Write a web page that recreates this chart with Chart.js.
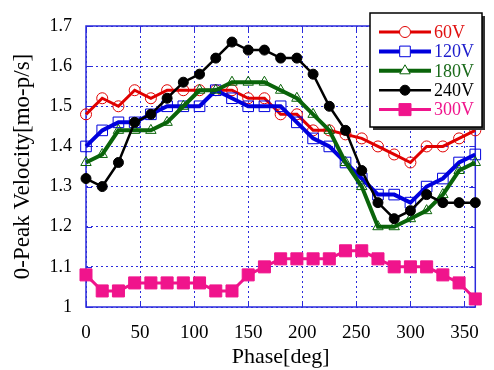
<!DOCTYPE html>
<html>
<head>
<meta charset="utf-8">
<script src="https://cdn.jsdelivr.net/npm/chart.js@4.4.1/dist/chart.umd.min.js"></script>
<style>
  html, body { margin: 0; padding: 0; background: #fff; }
  #wrap { width: 494px; height: 370px; position: relative; }
</style>
</head>
<body>
<div id="wrap"><canvas id="chart"></canvas></div>
<script>
// Valeurs (phase en degrés, vitesse 0-crête)
const phases = [0, 15, 30, 45, 60, 75, 90, 105, 120, 135, 150, 165, 180,
  195, 210, 225, 240, 255, 270, 285, 300, 315, 330, 345, 360]
const v60 = [1.48, 1.52, 1.50, 1.54, 1.52, 1.54, 1.54, 1.54, 1.54, 1.54, 1.52, 1.52, 1.48,
  1.48, 1.44, 1.44, 1.43, 1.42, 1.40, 1.38, 1.36, 1.40, 1.40, 1.42, 1.44]
const v120 = [1.40, 1.44, 1.46, 1.46, 1.48, 1.50, 1.50, 1.50, 1.54, 1.52, 1.50, 1.50, 1.50,
  1.46, 1.42, 1.40, 1.36, 1.32, 1.28, 1.28, 1.26, 1.30, 1.32, 1.36, 1.38]
const v180 = [1.36, 1.38, 1.44, 1.44, 1.44, 1.46, 1.50, 1.54, 1.54, 1.56, 1.56, 1.56, 1.54,
  1.52, 1.48, 1.44, 1.36, 1.30, 1.20, 1.20, 1.22, 1.24, 1.28, 1.34, 1.36]
const v240 = [1.32, 1.30, 1.36, 1.46, 1.48, 1.52, 1.56, 1.58, 1.62, 1.66, 1.64, 1.64, 1.62,
  1.62, 1.58, 1.50, 1.44, 1.34, 1.26, 1.22, 1.24, 1.28, 1.26, 1.26, 1.26]
const v300 = [1.08, 1.04, 1.04, 1.06, 1.06, 1.06, 1.06, 1.06, 1.04, 1.04, 1.08, 1.10, 1.12,
  1.12, 1.12, 1.12, 1.14, 1.14, 1.12, 1.10, 1.10, 1.10, 1.08, 1.06, 1.02]
const seriesLabels = ['60V', '120V', '180V', '240V', '300V']
const xTicks = [0, 50, 100, 150, 200, 250, 300, 350]
const yTicks = [1, 1.1, 1.2, 1.3, 1.4, 1.5, 1.6, 1.7]

const FONT = '"Liberation Serif", "DejaVu Serif", serif'
const GRID = '#2b2bdc'

const styles = [
  { color: '#e00000', text: '#e01010', width: 3, pointStyle: 'circle', radius: 5.5, fill: 'rgba(0,0,0,0)', bw: 1 },
  { color: '#0000dd', text: '#1c1ccc', width: 4, pointStyle: 'rect', radius: 7.5, fill: 'rgba(0,0,0,0)', bw: 1 },
  { color: '#0a640a', text: '#1a6a1a', width: 4, pointStyle: 'triangle', radius: 6, fill: 'rgba(0,0,0,0)', bw: 1 },
  { color: '#000000', text: '#000000', width: 2.5, pointStyle: 'circle', radius: 5, fill: '#000000', bw: 1 },
  { color: '#f0148c', text: '#f0148c', width: 3, pointStyle: 'rect', radius: 8.5, fill: '#f0148c', bw: 1 }
]

function makeDatasets() {
  return [v60, v120, v180, v240, v300].map((vals, i) => {
    const s = styles[i]
    return {
      label: seriesLabels[i],
      data: phases.map((p, j) => ({ x: p, y: vals[j] })),
      borderColor: s.color,
      borderWidth: s.width,
      pointStyle: s.pointStyle,
      pointRadius: s.radius,
      pointBackgroundColor: s.fill,
      pointBorderColor: s.color,
      pointBorderWidth: s.bw,
      tension: 0,
      clip: false,
      order: 5 - i
    }
  })
}

// Cadre bleu + petites graduations intérieures
const framePlugin = {
  id: 'frame',
  beforeDatasetsDraw(chart) {
    const { ctx, chartArea: a, scales } = chart
    ctx.save()
    ctx.strokeStyle = GRID
    ctx.lineWidth = 1.5
    ctx.strokeRect(a.left, a.top, a.right - a.left, a.bottom - a.top)
    ctx.lineWidth = 1
    ctx.beginPath()
    xTicks.forEach((v) => {
      const px = Math.round(scales.x.getPixelForValue(v)) + 0.5
      ctx.moveTo(px, a.bottom); ctx.lineTo(px, a.bottom - 6)
      ctx.moveTo(px, a.top); ctx.lineTo(px, a.top + 6)
    })
    yTicks.forEach((v) => {
      const py = Math.round(scales.y.getPixelForValue(v)) + 0.5
      ctx.moveTo(a.left, py); ctx.lineTo(a.left + 6, py)
      ctx.moveTo(a.right, py); ctx.lineTo(a.right - 6, py)
    })
    ctx.stroke()
    ctx.restore()
  }
}

// Légende encadrée en haut à droite, et titre de l'axe Y
const legendBoxPlugin = {
  id: 'legendBox',
  afterDraw(chart) {
    const { ctx, chartArea: a } = chart
    const x0 = 370, y0 = 13, w = 112, h = 114
    ctx.save()
    ctx.fillStyle = '#333'
    ctx.fillRect(x0 + 3, y0 + 3, w, h)
    ctx.fillStyle = '#fff'
    ctx.fillRect(x0, y0, w, h)
    ctx.strokeStyle = '#000'
    ctx.lineWidth = 1.5
    ctx.strokeRect(x0, y0, w, h)

    chart.data.datasets.forEach((ds, i) => {
      const s = styles[i]
      const y = 32 + i * 19.4
      ctx.strokeStyle = s.color
      ctx.lineWidth = s.width
      ctx.beginPath()
      ctx.moveTo(379, y)
      ctx.lineTo(431, y)
      ctx.stroke()
      ctx.fillStyle = s.fill === 'rgba(0,0,0,0)' ? '#fff' : s.fill
      ctx.strokeStyle = s.color
      ctx.lineWidth = s.bw
      Chart.helpers.drawPoint(ctx, {
        pointStyle: s.pointStyle, radius: s.radius, rotation: 0, borderWidth: s.bw
      }, 405, y)
      ctx.fillStyle = s.text
      ctx.font = '18px ' + FONT
      ctx.textAlign = 'left'
      ctx.textBaseline = 'middle'
      ctx.fillText(ds.label, 434, y + 1)
    })

    ctx.translate(23, (a.top + a.bottom) / 2)
    ctx.rotate(-Math.PI / 2)
    ctx.fillStyle = '#000'
    ctx.font = '23px ' + FONT
    ctx.textAlign = 'center'
    ctx.textBaseline = 'middle'
    ctx.fillText('0-Peak Velocity[mo-p/s]', 0, 0)
    ctx.restore()
  }
}

new Chart(document.getElementById('chart'), {
  type: 'line',
  data: { datasets: makeDatasets() },
  plugins: [framePlugin, legendBoxPlugin],
  options: {
    responsive: true,
    maintainAspectRatio: false,
    animation: false,
    layout: { padding: { top: 26, right: 7, left: 0, bottom: 0 } },
    plugins: {
      legend: { display: false },
      tooltip: { enabled: false }
    },
    scales: {
      x: {
        type: 'linear',
        min: 0,
        max: 360,
        afterBuildTicks: (axis) => { axis.ticks = xTicks.map((value) => ({ value })) },
        afterFit: (axis) => { axis.height = 63 },
        grid: { color: GRID, lineWidth: 1, drawTicks: false },
        border: { display: false, dash: [2, 3] },
        ticks: {
          color: '#000',
          font: { family: FONT, size: 19 },
          padding: 15,
          maxRotation: 0,
          callback: (v) => String(v)
        },
        title: {
          display: true,
          text: 'Phase[deg]',
          color: '#000',
          font: { family: FONT, size: 22 },
          padding: { top: 0, bottom: 0 }
        }
      },
      y: {
        min: 1,
        max: 1.7,
        afterBuildTicks: (axis) => { axis.ticks = yTicks.map((value) => ({ value })) },
        afterFit: (axis) => { axis.width = 86 },
        grid: { color: GRID, lineWidth: 1, drawTicks: false },
        border: { display: false, dash: [2, 3] },
        ticks: {
          color: '#000',
          font: { family: FONT, size: 18 },
          padding: 14,
          callback: (v) => String(Math.round(v * 10) / 10)
        }
      }
    }
  }
})
</script>
</body>
</html>
